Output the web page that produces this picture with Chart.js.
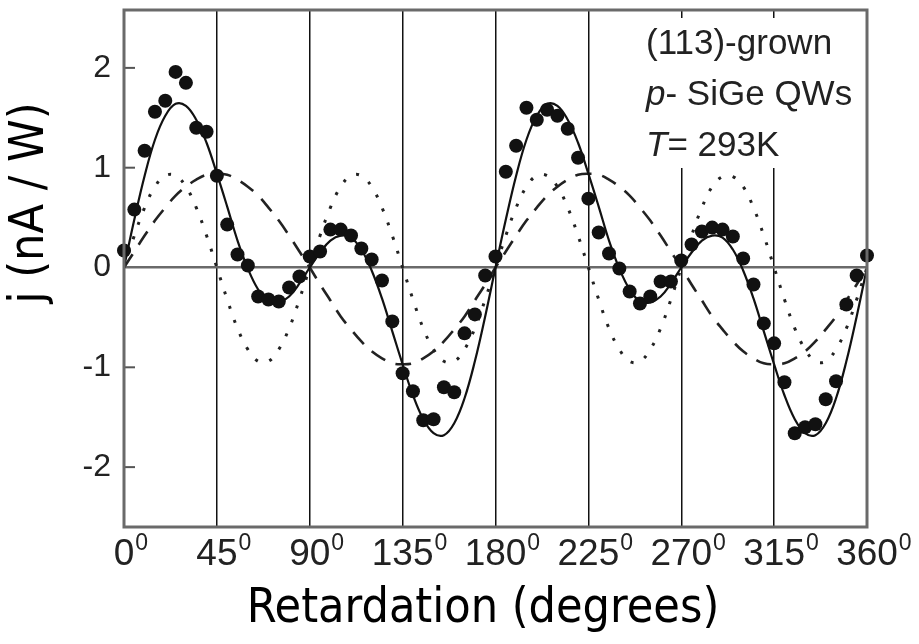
<!DOCTYPE html>
<html><head><meta charset="utf-8">
<script src="https://cdn.jsdelivr.net/npm/chart.js@4.4.1/dist/chart.umd.min.js"></script>
<style>html,body{margin:0;padding:0;background:#fff;}#wrap{width:919px;height:644px;}</style>
</head><body><div id="wrap"><canvas id="c" width="919" height="644"></canvas></div>
<script>
// Retardation angles (degrees), sampled every 5 degrees
const angles = [0,5,10,15,20,25,30,35,40,45,50,55,60,65,70,75,80,85,90,95,100,105,110,115,120,125,130,135,140,145,150,155,160,165,170,175,180,185,190,195,200,205,210,215,220,225,230,235,240,245,250,255,260,265,270,275,280,285,290,295,300,305,310,315,320,325,330,335,340,345,350,355,360];
// Measured photocurrent j (nA/W) - filled circles
const measured = [0.17,0.58,1.17,1.56,1.67,1.96,1.85,1.40,1.36,0.92,0.43,0.13,0.02,-0.29,-0.32,-0.34,-0.20,-0.09,0.11,0.16,0.38,0.38,0.32,0.19,0.08,-0.13,-0.54,-1.06,-1.24,-1.53,-1.52,-1.20,-1.25,-0.66,-0.47,-0.08,0.11,0.96,1.22,1.60,1.48,1.58,1.52,1.39,1.10,0.69,0.35,0.14,-0.01,-0.24,-0.36,-0.29,-0.14,-0.14,0.07,0.23,0.36,0.40,0.38,0.31,0.09,-0.17,-0.56,-0.76,-1.15,-1.66,-1.60,-1.57,-1.32,-1.14,-0.37,-0.08,0.12];
// Total fit (solid line)
const fitTotal = [0.00,0.48,0.92,1.28,1.52,1.64,1.62,1.48,1.25,0.94,0.61,0.27,-0.01,-0.22,-0.34,-0.35,-0.29,-0.16,0.00,0.15,0.27,0.32,0.30,0.18,-0.03,-0.31,-0.64,-0.97,-1.28,-1.52,-1.66,-1.68,-1.56,-1.31,-0.94,-0.49,0.00,0.48,0.92,1.28,1.52,1.64,1.62,1.48,1.25,0.94,0.61,0.27,-0.01,-0.22,-0.34,-0.35,-0.29,-0.16,0.00,0.15,0.27,0.32,0.30,0.18,-0.03,-0.31,-0.64,-0.97,-1.28,-1.52,-1.66,-1.68,-1.56,-1.31,-0.94,-0.49,0.00];
// Contribution with 180 deg period (dashed line)
const fitDashed = [0.00,0.16,0.32,0.47,0.60,0.72,0.81,0.88,0.93,0.94,0.93,0.88,0.81,0.72,0.60,0.47,0.32,0.16,0.00,-0.17,-0.33,-0.49,-0.62,-0.74,-0.84,-0.91,-0.96,-0.97,-0.96,-0.91,-0.84,-0.74,-0.62,-0.49,-0.33,-0.17,0.00,0.16,0.32,0.47,0.60,0.72,0.81,0.88,0.93,0.94,0.93,0.88,0.81,0.72,0.60,0.47,0.32,0.16,0.00,-0.17,-0.33,-0.49,-0.62,-0.74,-0.84,-0.91,-0.96,-0.97,-0.96,-0.91,-0.84,-0.74,-0.62,-0.49,-0.33,-0.17,0.00];
// Contribution with 90 deg period (dotted line)
const fitDotted = [0.00,0.32,0.60,0.81,0.92,0.92,0.81,0.60,0.32,0.00,-0.32,-0.61,-0.82,-0.94,-0.94,-0.82,-0.61,-0.32,0.00,0.32,0.60,0.81,0.92,0.92,0.81,0.60,0.32,0.00,-0.32,-0.61,-0.82,-0.94,-0.94,-0.82,-0.61,-0.32,0.00,0.32,0.60,0.81,0.92,0.92,0.81,0.60,0.32,0.00,-0.32,-0.61,-0.82,-0.94,-0.94,-0.82,-0.61,-0.32,0.00,0.32,0.60,0.81,0.91,0.91,0.81,0.60,0.32,0.00,-0.32,-0.61,-0.82,-0.94,-0.94,-0.82,-0.61,-0.32,0.00];

const xTicks = [0,45,90,135,180,225,270,315,360];
const xTickLabels = ['0','45','90','135','180','225','270','315','360'];
const xTickSup = '0';
const yTicks = [-2,-1,0,1,2];
const yTickLabels = ['-2','-1','0','1','2'];
const xTitle = 'Retardation (degrees)';
const yTitle = 'j (nA / W)';
const infoLines = [
  [{t:'(113)-grown', i:false}],
  [{t:'p', i:true},{t:'- SiGe QWs', i:false}],
  [{t:'T', i:true},{t:'= 293K', i:false}]
];

const pts = arr => angles.map((a,k)=>({x:a, y:arr[k]}));
const SANS = '"Liberation Sans", Arial, sans-serif';
const TITLEF = '"DejaVu Sans Condensed", "DejaVu Sans", sans-serif';
const XTF = 37;

const decor = {
  id:'decor',
  beforeDatasetsDraw(chart){
    const {ctx, chartArea:a, scales:{x,y}} = chart;
    ctx.save();
    ctx.fillStyle = '#fff';
    ctx.fillRect(628, a.top+8, a.right-628-2, 150);
    ctx.strokeStyle = '#555'; ctx.lineWidth = 2;
    yTicks.forEach(v=>{ if(v===0) return; const py=y.getPixelForValue(v);
      ctx.beginPath(); ctx.moveTo(a.left, py); ctx.lineTo(a.left+11, py); ctx.stroke(); });
    ctx.restore();
  },
  afterDatasetsDraw(chart){
    const {ctx, chartArea:a, scales:{x,y}} = chart;
    ctx.save();
    ctx.strokeStyle = '#6a6a6a'; ctx.lineWidth = 3;
    ctx.strokeRect(a.left, a.top, a.right-a.left, a.bottom-a.top);
    ctx.fillStyle = '#222'; ctx.textBaseline = 'alphabetic'; ctx.textAlign='left';
    const base = [54,105,156];
    infoLines.forEach((line,li)=>{
      let px = 646;
      line.forEach(seg=>{
        ctx.font = (seg.i?'italic ':'') + '35px ' + SANS;
        ctx.fillText(seg.t, px, base[li]);
        px += ctx.measureText(seg.t).width;
      });
    });
    const top = a.bottom;
    xTicks.forEach((v,k)=>{
      ctx.font = XTF + 'px ' + SANS;
      const w = ctx.measureText(xTickLabels[k]).width;
      const px = x.getPixelForValue(v);
      ctx.font = '23px ' + SANS;
      ctx.fillText(xTickSup, px + w/2 + 1, top + 23);
    });
    ctx.fillStyle = '#000';
    ctx.font = '48px ' + TITLEF;
    ctx.textAlign = 'center';
    ctx.fillText(xTitle, 483, 622);
    ctx.save();
    ctx.translate(43, 203);
    ctx.rotate(-Math.PI/2);
    ctx.fillText(yTitle, 0, 0);
    ctx.restore();
    ctx.restore();
  }
};

new Chart(document.getElementById('c'), {
  type:'line',
  data:{ datasets:[
    {type:'scatter', data:pts(measured), showLine:false, pointRadius:7, pointBackgroundColor:'#111', pointBorderColor:'#111', pointBorderWidth:0, clip:false},
    {data:pts(fitTotal), borderColor:'#111', borderWidth:2.2, pointRadius:0, tension:0.4, fill:false},
    {data:pts(fitDashed), borderColor:'#222', borderWidth:2.6, borderDash:[16,11], pointRadius:0, tension:0.4, fill:false},
    {data:pts(fitDotted), borderColor:'#222', borderWidth:3, borderDash:[3,12], pointRadius:0, tension:0.4, fill:false}
  ]},
  options:{
    responsive:false, animation:false, devicePixelRatio:1,
    layout:{padding:{left:0, right:52, top:10, bottom:0}},
    plugins:{legend:{display:false}, tooltip:{enabled:false}},
    scales:{
      x:{type:'linear', min:0, max:360,
        afterBuildTicks:s=>{ s.ticks = xTicks.map(v=>({value:v})); },
        afterFit:s=>{ s.height = 117; s.paddingLeft = 0; s.paddingRight = 0; },
        grid:{color:'#111', lineWidth:1.5, drawTicks:false},
        border:{display:false},
        ticks:{callback:(v,i)=>xTickLabels[i], font:{family:SANS, size:XTF}, color:'#222', padding:6, maxRotation:0, autoSkip:false}
      },
      y:{type:'linear', min:-2.6, max:2.58,
        afterBuildTicks:s=>{ s.ticks = yTicks.map(v=>({value:v})); },
        afterFit:s=>{ s.width = 124; s.paddingTop = 0; s.paddingBottom = 0; },
        grid:{color:c=> (c.tick && c.tick.value===0) ? '#6a6a6a' : 'rgba(0,0,0,0)', lineWidth:2.5, drawTicks:false},
        border:{display:false},
        ticks:{callback:(v,i)=>yTickLabels[i], font:{family:SANS, size:32}, color:'#222', padding:13}
      }
    }
  },
  plugins:[decor]
});
</script></body></html>
